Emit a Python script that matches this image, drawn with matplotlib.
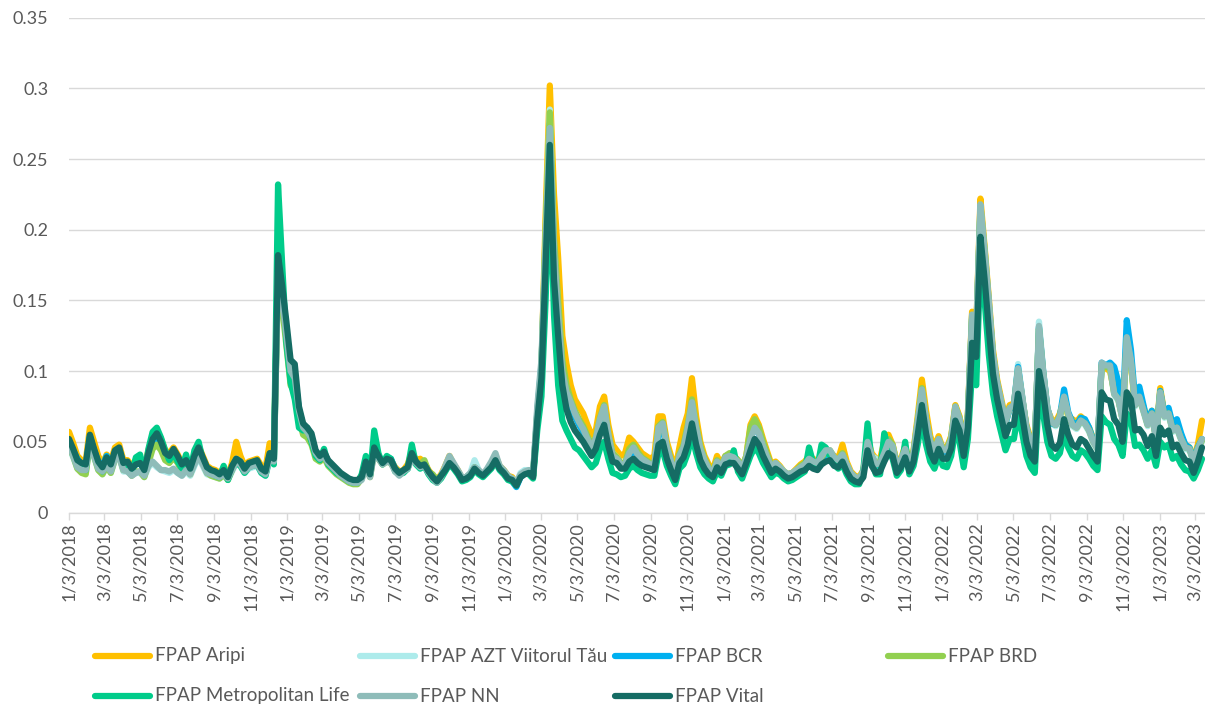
import numpy as np
import pandas as pd
import matplotlib
matplotlib.use("Agg")
import matplotlib.pyplot as plt
from matplotlib.lines import Line2D

plt.rcParams['font.family'] = ['Lato', 'DejaVu Sans']

# weekly observations, first one on 3 Jan 2018
dates = pd.date_range('2018-01-03', periods=272, freq='7D')

vital = [
    .052, .045, .037, .035, .034, .055, .045, .036, .032, .039,
    .034, .044, .046, .035, .036, .031, .034, .035, .030, .042,
    .052, .056, .050, .042, .040, .045, .040, .034, .037, .031,
    .040, .046, .039, .032, .030, .029, .027, .030, .025, .033,
    .038, .036, .031, .035, .036, .037, .031, .029, .042, .038,
    .182, .160, .135, .108, .105, .075, .063, .060, .056, .044,
    .040, .043, .037, .034, .031, .028, .026, .024, .023, .023,
    .025, .036, .027, .046, .040, .035, .038, .037, .031, .028,
    .030, .032, .042, .036, .033, .034, .029, .025, .022, .026,
    .030, .035, .032, .028, .023, .024, .026, .031, .028, .026,
    .029, .032, .037, .031, .028, .024, .023, .019, .025, .027,
    .028, .025, .065, .095, .175, .260, .165, .125, .090, .073,
    .064, .058, .054, .050, .045, .040, .045, .055, .062, .047,
    .036, .035, .031, .031, .036, .038, .035, .033, .032, .031,
    .030, .048, .050, .038, .030, .023, .035, .039, .048, .063,
    .048, .037, .031, .027, .025, .032, .028, .034, .035, .035,
    .031, .027, .035, .044, .052, .048, .040, .034, .028, .031,
    .029, .026, .024, .025, .027, .029, .030, .033, .031, .030,
    .034, .036, .037, .033, .032, .036, .029, .024, .022, .021,
    .025, .044, .033, .028, .029, .036, .042, .040, .028, .032,
    .039, .029, .036, .055, .076, .056, .042, .036, .045, .038,
    .038, .045, .065, .058, .040, .060, .120, .110, .195, .165,
    .130, .098, .080, .067, .054, .062, .062, .084, .068, .050,
    .040, .036, .100, .085, .062, .048, .045, .049, .066, .055,
    .048, .046, .052, .050, .045, .040, .036, .085, .080, .079,
    .066, .062, .050, .085, .080, .058, .059, .055, .047, .054,
    .040, .060, .055, .058, .046, .048, .042, .037, .036, .028,
    .036, .046,
]

nn = [
    .048, .040, .032, .030, .030, .050, .040, .031, .029, .033,
    .029, .038, .040, .030, .029, .026, .028, .029, .026, .033,
    .036, .033, .030, .030, .029, .031, .028, .026, .030, .027,
    .034, .040, .034, .028, .027, .026, .025, .027, .024, .030,
    .036, .034, .029, .032, .033, .034, .029, .027, .038, .036,
    .170, .150, .125, .100, .095, .072, .060, .057, .052, .042,
    .038, .040, .035, .032, .029, .026, .024, .022, .021, .021,
    .023, .032, .025, .042, .038, .034, .036, .035, .029, .026,
    .029, .031, .038, .035, .032, .033, .028, .024, .021, .025,
    .033, .040, .035, .030, .025, .025, .028, .032, .030, .027,
    .031, .036, .042, .033, .030, .026, .024, .021, .027, .029,
    .030, .027, .075, .108, .190, .272, .185, .140, .100, .085,
    .078, .070, .064, .059, .052, .046, .052, .066, .075, .055,
    .040, .038, .034, .034, .042, .046, .041, .038, .036, .034,
    .033, .060, .063, .046, .036, .027, .040, .046, .060, .078,
    .060, .045, .037, .031, .028, .036, .032, .039, .040, .039,
    .036, .031, .039, .052, .060, .056, .047, .039, .032, .035,
    .032, .029, .027, .028, .030, .032, .034, .038, .036, .035,
    .040, .044, .044, .039, .037, .041, .034, .028, .025, .024,
    .029, .050, .040, .034, .035, .042, .050, .047, .033, .037,
    .045, .034, .042, .064, .087, .066, .050, .044, .052, .044,
    .044, .052, .075, .066, .048, .068, .140, .128, .218, .185,
    .150, .112, .092, .078, .064, .074, .076, .102, .082, .060,
    .050, .045, .132, .100, .074, .064, .062, .068, .082, .070,
    .062, .060, .065, .063, .058, .050, .045, .106, .104, .104,
    .084, .080, .066, .124, .108, .076, .082, .072, .062, .070,
    .052, .085, .068, .070, .058, .060, .052, .046, .045, .036,
    .045, .052,
]

metropolitan = [
    .050, .042, .033, .031, .030, .053, .043, .033, .029, .038,
    .030, .043, .044, .032, .033, .028, .039, .041, .028, .045,
    .057, .060, .053, .044, .037, .042, .036, .031, .041, .029,
    .044, .050, .037, .030, .028, .026, .025, .033, .023, .031,
    .035, .033, .028, .032, .033, .034, .028, .026, .039, .034,
    .232, .175, .120, .092, .080, .060, .058, .060, .050, .040,
    .037, .045, .034, .031, .028, .026, .024, .022, .021, .021,
    .027, .040, .026, .058, .042, .034, .040, .038, .029, .027,
    .028, .031, .048, .034, .031, .033, .027, .023, .021, .024,
    .029, .034, .031, .027, .022, .023, .025, .030, .027, .025,
    .028, .031, .036, .030, .027, .023, .022, .019, .026, .028,
    .027, .024, .058, .082, .150, .240, .140, .090, .065, .058,
    .052, .046, .044, .040, .036, .032, .035, .045, .050, .038,
    .028, .027, .025, .026, .031, .033, .030, .028, .027, .026,
    .026, .042, .044, .033, .026, .020, .031, .034, .042, .055,
    .042, .032, .027, .024, .022, .029, .026, .033, .034, .044,
    .029, .024, .032, .040, .046, .042, .035, .030, .025, .028,
    .027, .024, .022, .023, .025, .027, .029, .046, .035, .032,
    .048, .046, .040, .034, .031, .034, .027, .022, .020, .020,
    .030, .063, .036, .027, .027, .056, .044, .038, .026, .030,
    .050, .027, .033, .048, .066, .048, .036, .031, .040, .033,
    .032, .040, .058, .050, .032, .052, .100, .090, .180, .150,
    .112, .084, .068, .056, .044, .052, .052, .070, .056, .040,
    .032, .028, .085, .070, .050, .040, .038, .042, .056, .046,
    .040, .038, .044, .042, .038, .033, .030, .068, .064, .062,
    .052, .048, .040, .070, .065, .047, .048, .044, .038, .044,
    .033, .050, .046, .048, .038, .040, .034, .030, .029, .024,
    .030, .038,
]

aripi = [
    .057, .049, .040, .037, .036, .060, .050, .040, .034, .041,
    .036, .046, .048, .037, .037, .033, .035, .036, .031, .044,
    .054, .058, .052, .044, .042, .046, .041, .035, .038, .032,
    .041, .047, .040, .033, .031, .030, .028, .031, .026, .035,
    .050, .040, .033, .036, .037, .038, .033, .031, .049, .042,
    .175, .150, .125, .100, .095, .072, .062, .058, .053, .042,
    .040, .042, .036, .033, .030, .027, .025, .023, .022, .022,
    .026, .036, .027, .045, .040, .036, .038, .037, .032, .029,
    .030, .034, .043, .037, .038, .035, .030, .026, .023, .027,
    .033, .040, .034, .030, .024, .025, .027, .032, .029, .027,
    .030, .034, .040, .033, .030, .026, .025, .021, .027, .029,
    .029, .026, .068, .100, .210, .302, .225, .180, .125, .105,
    .090, .080, .075, .070, .062, .055, .058, .075, .082, .062,
    .048, .044, .040, .042, .053, .050, .046, .042, .040, .038,
    .040, .068, .068, .050, .040, .030, .046, .060, .070, .095,
    .068, .050, .040, .034, .030, .040, .034, .040, .040, .040,
    .037, .032, .040, .062, .068, .062, .052, .043, .034, .036,
    .033, .029, .027, .028, .031, .034, .036, .040, .038, .036,
    .040, .043, .043, .040, .038, .048, .036, .029, .026, .025,
    .030, .052, .042, .038, .038, .050, .055, .048, .035, .038,
    .047, .036, .044, .068, .094, .072, .054, .046, .054, .045,
    .046, .054, .076, .068, .050, .070, .142, .130, .222, .188,
    .152, .115, .094, .080, .066, .076, .077, .100, .080, .062,
    .052, .047, .130, .098, .073, .066, .064, .070, .080, .068,
    .066, .064, .068, .065, .060, .052, .046, .104, .102, .100,
    .086, .080, .066, .122, .104, .076, .080, .075, .064, .072,
    .054, .088, .070, .072, .060, .062, .054, .048, .046, .038,
    .048, .065,
]

azt = [
    .046, .039, .031, .029, .028, .049, .039, .030, .027, .032,
    .028, .037, .039, .029, .029, .026, .028, .028, .025, .032,
    .035, .032, .030, .029, .028, .030, .028, .026, .029, .026,
    .033, .039, .033, .027, .026, .025, .024, .026, .023, .029,
    .035, .033, .028, .031, .032, .033, .028, .026, .037, .035,
    .168, .148, .123, .098, .094, .070, .059, .056, .051, .041,
    .039, .041, .036, .033, .030, .027, .025, .023, .022, .022,
    .026, .037, .026, .044, .039, .034, .037, .036, .030, .027,
    .029, .031, .040, .035, .032, .033, .028, .025, .022, .026,
    .032, .039, .034, .029, .024, .025, .028, .037, .030, .027,
    .030, .034, .040, .033, .029, .025, .024, .021, .028, .030,
    .030, .027, .072, .105, .195, .285, .190, .145, .104, .088,
    .077, .069, .063, .058, .051, .045, .051, .064, .073, .054,
    .042, .039, .035, .035, .041, .045, .041, .038, .036, .034,
    .033, .058, .061, .045, .035, .027, .039, .045, .058, .076,
    .058, .044, .036, .031, .028, .036, .032, .039, .041, .039,
    .036, .031, .039, .055, .063, .058, .048, .039, .032, .035,
    .032, .029, .027, .028, .030, .032, .034, .038, .036, .035,
    .039, .042, .043, .038, .037, .041, .034, .028, .025, .024,
    .029, .051, .040, .038, .035, .043, .050, .047, .033, .037,
    .045, .034, .042, .064, .086, .065, .050, .043, .051, .044,
    .044, .052, .074, .066, .048, .068, .138, .126, .216, .184,
    .148, .111, .091, .077, .063, .073, .075, .105, .082, .059,
    .050, .045, .135, .101, .074, .063, .061, .067, .081, .069,
    .061, .059, .064, .062, .057, .049, .044, .105, .103, .103,
    .083, .079, .065, .123, .107, .075, .081, .071, .061, .069,
    .052, .084, .067, .069, .057, .059, .051, .045, .044, .035,
    .044, .050,
]

bcr = [
    .050, .044, .038, .034, .033, .054, .044, .036, .033, .040,
    .034, .043, .045, .035, .035, .031, .034, .035, .030, .041,
    .050, .054, .048, .040, .038, .043, .038, .033, .035, .030,
    .039, .045, .038, .031, .029, .028, .026, .029, .025, .032,
    .038, .036, .031, .034, .035, .036, .030, .028, .041, .037,
    .172, .152, .127, .101, .097, .073, .061, .058, .053, .043,
    .039, .042, .036, .033, .030, .027, .025, .023, .022, .022,
    .025, .035, .026, .045, .040, .036, .039, .038, .031, .028,
    .029, .031, .041, .036, .033, .034, .029, .025, .022, .026,
    .031, .037, .033, .029, .024, .025, .027, .032, .029, .027,
    .029, .033, .038, .032, .028, .024, .022, .018, .025, .028,
    .029, .026, .070, .104, .185, .275, .182, .140, .100, .085,
    .076, .068, .062, .057, .050, .045, .050, .063, .072, .053,
    .039, .037, .033, .033, .040, .044, .040, .037, .035, .033,
    .032, .057, .060, .044, .034, .026, .038, .044, .057, .075,
    .057, .043, .036, .030, .027, .035, .031, .038, .039, .038,
    .035, .030, .038, .052, .060, .056, .046, .038, .031, .034,
    .031, .028, .026, .027, .029, .031, .033, .037, .035, .034,
    .038, .041, .042, .037, .036, .040, .033, .026, .023, .022,
    .028, .049, .038, .033, .034, .041, .048, .046, .032, .036,
    .044, .033, .041, .062, .085, .064, .049, .043, .050, .043,
    .043, .051, .073, .065, .047, .067, .137, .125, .214, .182,
    .147, .110, .090, .077, .063, .073, .076, .103, .081, .060,
    .050, .045, .131, .100, .074, .063, .062, .068, .087, .071,
    .064, .062, .067, .066, .060, .051, .046, .106, .104, .106,
    .103, .092, .070, .136, .115, .080, .089, .076, .063, .072,
    .053, .086, .070, .074, .062, .066, .056, .048, .046, .037,
    .046, .052,
]

brd = [
    .047, .040, .031, .028, .027, .050, .040, .030, .027, .033,
    .028, .038, .040, .030, .030, .026, .029, .029, .025, .035,
    .045, .048, .044, .037, .035, .039, .035, .029, .032, .027,
    .036, .042, .035, .028, .026, .025, .024, .027, .023, .030,
    .037, .035, .030, .033, .034, .035, .029, .027, .040, .036,
    .165, .145, .118, .090, .085, .066, .055, .053, .048, .038,
    .036, .039, .033, .030, .027, .025, .023, .021, .020, .020,
    .024, .034, .025, .043, .038, .034, .036, .035, .030, .029,
    .029, .031, .040, .035, .034, .037, .029, .027, .023, .025,
    .031, .037, .033, .029, .024, .025, .027, .032, .029, .027,
    .029, .033, .038, .032, .029, .025, .023, .020, .026, .028,
    .029, .026, .070, .102, .200, .283, .195, .150, .108, .090,
    .080, .072, .066, .061, .054, .048, .053, .067, .076, .056,
    .042, .039, .035, .035, .045, .048, .043, .039, .037, .035,
    .034, .061, .064, .047, .037, .028, .041, .048, .062, .080,
    .062, .047, .038, .032, .029, .037, .033, .040, .042, .040,
    .037, .032, .040, .060, .066, .060, .050, .041, .033, .035,
    .032, .029, .027, .028, .030, .033, .035, .039, .037, .035,
    .039, .043, .044, .039, .037, .042, .034, .028, .025, .024,
    .029, .050, .040, .034, .036, .046, .052, .048, .034, .037,
    .045, .034, .043, .065, .088, .066, .051, .044, .052, .045,
    .045, .053, .075, .067, .049, .069, .139, .127, .217, .186,
    .149, .112, .092, .078, .064, .074, .075, .101, .081, .060,
    .051, .046, .130, .099, .073, .064, .062, .068, .081, .069,
    .062, .060, .065, .063, .058, .050, .045, .104, .103, .102,
    .084, .080, .066, .122, .106, .076, .081, .072, .062, .070,
    .052, .085, .068, .070, .058, .060, .052, .046, .045, .036,
    .045, .051,
]

names = ['FPAP Aripi', 'FPAP AZT Viitorul Tău', 'FPAP BCR', 'FPAP BRD',
         'FPAP Metropolitan Life', 'FPAP NN', 'FPAP Vital']
series = [aripi, azt, bcr, brd, metropolitan, nn, vital]
colors = ['#FFC000', '#ADEBEB', '#00B0F0', '#92D050', '#00CC8A', '#8EBCB9', '#156C64']

tick_dates = pd.date_range('2018-01-03', '2023-03-03', freq=pd.DateOffset(months=2))
tick_labels = [f"{d.month}/{d.day}/{d.year}" for d in tick_dates]

W, H = 1205, 706
fig = plt.figure(figsize=(W / 100, H / 100), dpi=100)
ax = fig.add_axes([69 / W, 193.5 / H, 1 - 69 / W, (512.5 - 17.6) / H])

lw = 4.5
for vals, c in zip(series, colors):
    ax.plot(dates, vals, color=c, lw=lw, solid_joinstyle='round', solid_capstyle='round')

ax.set_ylim(0, 0.35)
ax.set_yticks(np.arange(0, 0.351, 0.05))
ax.set_yticklabels([f"{v:g}" for v in np.round(np.arange(0, 0.351, 0.05), 2)])
ax.set_xlim(pd.Timestamp('2018-01-03'), pd.Timestamp('2023-03-20'))
ax.set_xticks(tick_dates)
ax.set_xticklabels(tick_labels, rotation=90)

ax.grid(axis='y', color='#D9D9D9', lw=1.0)
ax.set_axisbelow(True)
for s in ['top', 'right', 'left']:
    ax.spines[s].set_visible(False)
ax.spines['bottom'].set_color('#D9D9D9')
ax.spines['bottom'].set_linewidth(1.0)
ax.tick_params(axis='y', length=0, pad=15, labelsize=13, labelcolor='#595959')
ax.tick_params(axis='x', length=5, width=1, color='#D9D9D9', pad=2,
               labelsize=13, labelcolor='#595959')

# legend laid out like the spreadsheet one: 4 columns, 2 rows
col_x = [95, 360, 615, 888]
row_y = [656, 696]
for i, (name, c) in enumerate(zip(names, colors)):
    x0 = col_x[i % 4]
    y0 = row_y[i // 4]
    fig.add_artist(Line2D([x0 / W, (x0 + 55) / W], [1 - y0 / H, 1 - y0 / H],
                          color=c, lw=lw, solid_capstyle='round'))
    fig.text((x0 + 60) / W, 1 - y0 / H, name, fontsize=13.5, color='#595959',
             va='center', ha='left')

fig.savefig('out.png', dpi=100)
